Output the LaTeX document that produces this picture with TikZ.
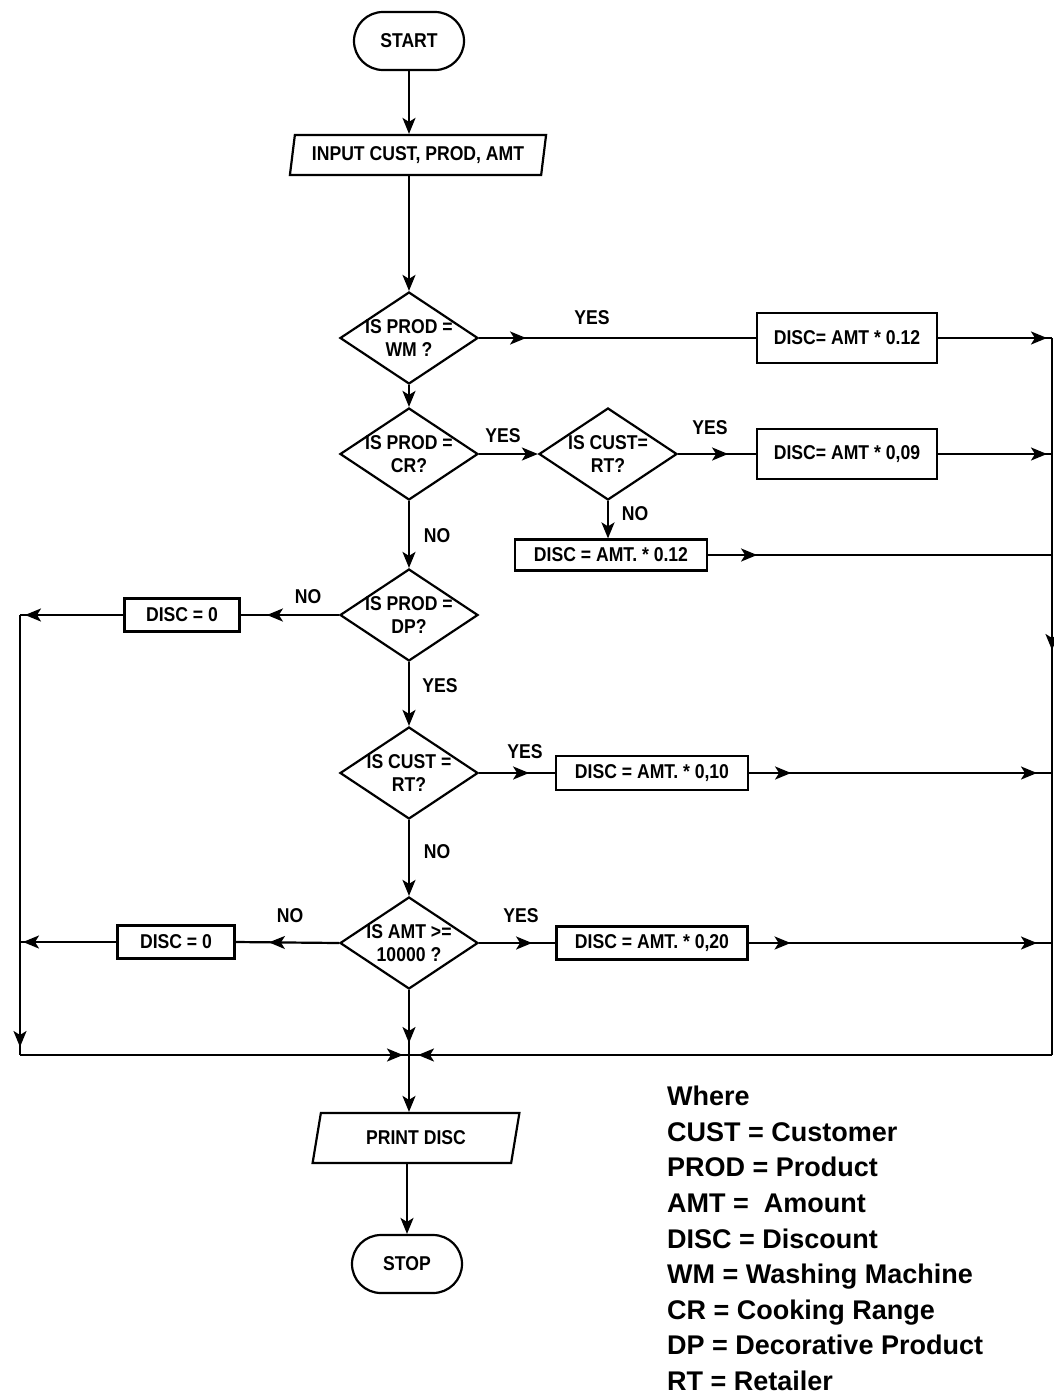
\documentclass[tikz,border=0pt]{standalone}
\usepackage{fontspec}
\setmainfont{Liberation Sans}
\newfontfamily\condfont[FakeStretch=0.88]{Liberation Sans}
\usetikzlibrary{shapes.geometric,shapes.misc,arrows.meta,decorations.markings}
\tikzset{
  >={Stealth[length=16pt,width=13pt,inset=4pt]},
  lbl/.style={font=\condfont\bfseries\fontsize{20}{23}\selectfont, inner sep=0pt},
  ln/.style={line width=2.2pt},
  arr/.style={ln,->},
  arrowat/.style={postaction={decorate,decoration={markings,mark=at position #1 with {\arrow{>}}}}},
  term/.style={rounded rectangle, draw, ln, lbl, minimum width=110pt, minimum height=58pt},
  io/.style={trapezium, trapezium stretches=true, draw, ln, lbl},
  dia/.style={diamond, draw, ln, inner sep=0pt, minimum width=138pt, minimum height=92pt,
    label={[lbl, align=center]center:{#1}}},
  box/.style={rectangle, draw, ln, lbl, inner sep=0pt}
}
\begin{document}
\begin{tikzpicture}[x=1pt,y=-1pt]
\useasboundingbox (0,0) rectangle (1054,1395);

% main column
\node[term] (start) at (409,41) {START};
\node[io, trapezium left angle=76, trapezium right angle=104, minimum width=257pt, minimum height=40pt] (inp) at (418,155) {INPUT CUST, PROD, AMT};
\node[dia={IS PROD =\\WM ?}] (d1) at (409,338) {};
\node[dia={IS PROD =\\CR?}] (d2) at (409,454) {};
\node[dia={IS CUST=\\RT?}] (d3) at (608,454) {};
\node[dia={IS PROD =\\DP?}] (d4) at (409,615) {};
\node[dia={IS CUST =\\RT?}] (d5) at (409,773) {};
\node[dia={IS AMT >=\\10000 ?}] (d6) at (409,943) {};
\node[io, trapezium left angle=73, trapezium right angle=107, minimum width=207pt, minimum height=50pt] (print) at (416,1138) {PRINT DISC};
\node[term] (stop) at (407,1264) {STOP};

% process boxes
\node[box, minimum width=180pt, minimum height=50pt] (b1) at (847,338) {DISC= AMT * 0.12};
\node[box, minimum width=180pt, minimum height=50pt] (b2) at (847,454) {DISC= AMT * 0,09};
\node[box, minimum width=192pt, minimum height=31pt] (b3) at (611,555) {DISC = AMT. * 0.12};
\node[box, minimum width=115pt, minimum height=33pt] (b4) at (182,615) {DISC = 0};
\node[box, minimum width=192pt, minimum height=34pt] (b5) at (652,773) {DISC = AMT. * 0,10};
\node[box, minimum width=191pt, minimum height=33pt] (b6) at (652,943) {DISC = AMT. * 0,20};
\node[box, minimum width=117pt, minimum height=33pt] (b7) at (176,942) {DISC = 0};

% junction coordinates
\coordinate (rt) at (1052,338);
\coordinate (r2) at (1052,454);
\coordinate (r3) at (1052,555);
\coordinate (r5) at (1052,773);
\coordinate (r6) at (1052,943);
\coordinate (rb) at (1052,1055);
\coordinate (lt) at (20,615);
\coordinate (l7) at (20,942);
\coordinate (lb) at (20,1055);
\coordinate (j) at (409,1055);

% connectors
\draw[arr] (start.south) -- (start.south |- inp.north);
\draw[arr] (d1.north |- inp.south) -- (d1.north);
\draw[ln, arrowat=47pt] (d1.east) -- (b1.west);
\draw[ln, arrowat=-5pt] (b1.east) -- (rt);
\draw[arr] (d1.south) -- (d2.north);
\draw[arr] (d2.east) -- (d3.west);
\draw[ln, arrowat=50pt] (d3.east) -- (b2.west);
\draw[ln, arrowat=-5pt] (b2.east) -- (r2);
\draw[arr] (d3.south) -- (d3.south |- b3.north);
\draw[ln, arrowat=49pt] (b3.east) -- (r3);
\draw[arr] (d2.south) -- (d4.north);
\draw[ln, arrowat=72pt] (d4.west) -- (b4.east);
\draw[ln, arrowat=-5pt] (b4.west) -- (lt);
\draw[ln, arrowat=-8pt] (lt) -- (lb);
\draw[arr] (d4.south) -- (d5.north);
\draw[ln, arrowat=50pt] (d5.east) -- (b5.west);
\draw[ln, arrowat=42pt, arrowat=-15pt] (b5.east) -- (r5);
\draw[arr] (d5.south) -- (d6.north);
\draw[ln, arrowat=53pt] (d6.east) -- (b6.west);
\draw[ln, arrowat=42pt, arrowat=-15pt] (b6.east) -- (r6);
\draw[ln, arrowat=70pt] (d6.west) -- (b7.east);
\draw[ln, arrowat=-3pt] (b7.west) -- (l7);
\draw[ln, arrowat=312pt] (rt) -- (rb);
\draw[ln, arrowat=-12pt] (d6.south) -- (j);
\draw[ln, arrowat=-6pt] (lb) -- (j);
\draw[ln, arrowat=-9pt] (rb) -- (j);
\draw[arr] (j) -- (j |- print.north);
\draw[arr] (stop.north |- print.south) -- (stop.north);

% branch labels
\node[lbl] (y1) at (592,318) {YES};
\node[lbl] (y2) at (503,436) {YES};
\node[lbl] (y3) at (710,428) {YES};
\node[lbl] (n1) at (635,514) {NO};
\node[lbl] (n2) at (437,536) {NO};
\node[lbl] (n3) at (308,597) {NO};
\node[lbl] (y4) at (440,686) {YES};
\node[lbl] (y5) at (525,752) {YES};
\node[lbl] (n4) at (437,852) {NO};
\node[lbl] (y6) at (521,916) {YES};
\node[lbl] (n5) at (290,916) {NO};

% legend
\node[anchor=north west, align=left, inner sep=0pt, font=\bfseries\fontsize{27}{35.6}\selectfont] (legend) at (667,1086)
  {Where\\CUST = Customer\\PROD = Product\\AMT =\ \ Amount\\DISC = Discount\\WM = Washing Machine\\CR = Cooking Range\\DP = Decorative Product\\RT = Retailer};
\end{tikzpicture}
\end{document}
